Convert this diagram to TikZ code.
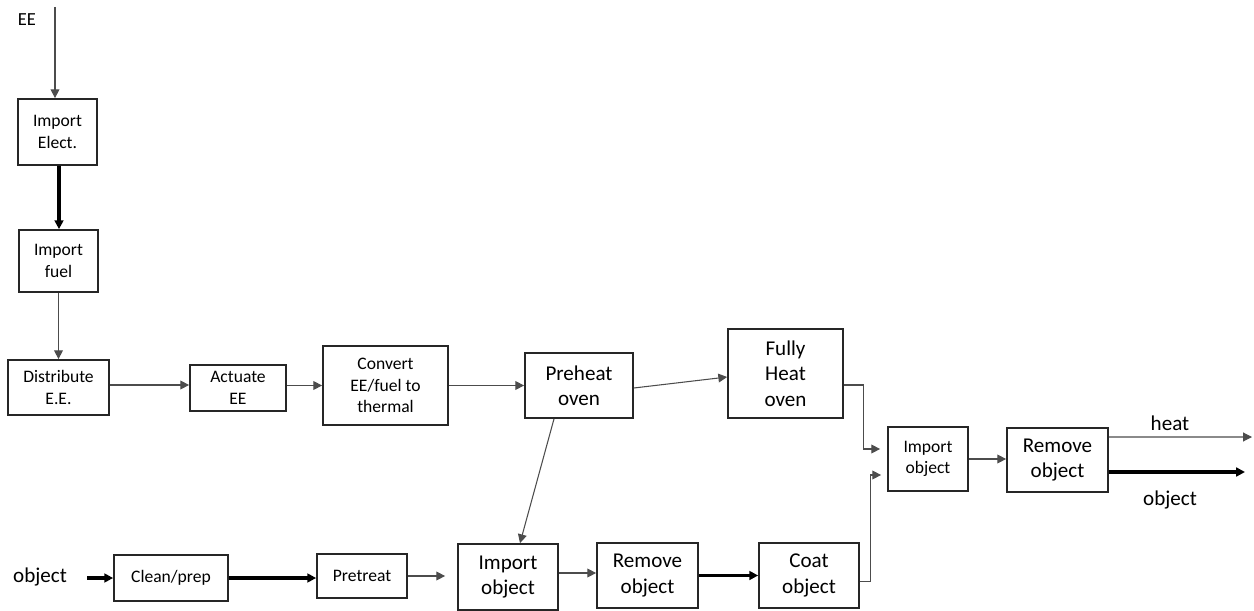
\documentclass[tikz,border=0pt]{standalone}
\usepackage{fontspec}
\setmainfont{Carlito}
\usetikzlibrary{arrows.meta}

\begin{document}
\begin{tikzpicture}[x=0.02cm,y=-0.02cm]
      \tikzstyle{every node}+=[inner sep=0pt]
      \tikzstyle{blk}=[draw=black!85,line width=1pt,align=center,text=black]
      \tikzstyle{txs}=[font=\fontsize{10}{12.3}\selectfont]
      \tikzstyle{txl}=[font=\fontsize{12}{14.5}\selectfont]
      \tikzstyle{lbl}=[text=black]
      \tikzstyle{arr}=[draw=black!70,line width=0.6pt,-{Triangle[length=5pt,width=5pt]}]
      \tikzstyle{fatarr}=[draw=black,line width=2.2pt,-{Triangle[length=5pt,width=5pt]}]
      \useasboundingbox (0,0) rectangle (1254,611);
      % energy column
      \node[lbl,font=\fontsize{10.5}{12}\selectfont] (ee) at (27,20) {EE};
      \coordinate (eetop) at (55,7);
      \node[blk,txs,minimum width=1.58cm,minimum height=1.32cm] (impelec) at (57.5,132) {Import\\Elect.};
      \node[blk,txs,minimum width=1.58cm,minimum height=1.24cm] (impfuel) at (58.5,261) {Import\\fuel};
      \node[blk,txs,minimum width=2.02cm,minimum height=1.10cm] (distrib) at (58.5,387.5) {Distribute\\E.E.};
      % top row
      \node[blk,txs,minimum width=1.92cm,minimum height=0.92cm] (actuate) at (238,388) {Actuate\\EE};
      \node[blk,txs,minimum width=2.50cm,minimum height=1.58cm] (convert) at (385.5,385.5) {Convert\\EE/fuel to\\thermal};
      \node[blk,txl,minimum width=2.16cm,minimum height=1.30cm] (preheat) at (579,385.5) {Preheat\\oven};
      \node[blk,txl,minimum width=2.30cm,minimum height=1.78cm] (fullheat) at (785.5,373.5) {Fully\\Heat\\oven};
      \node[blk,txs,minimum width=1.60cm,minimum height=1.28cm] (impobjR) at (928,459) {Import\\object};
      \node[blk,txl,minimum width=2.02cm,minimum height=1.28cm] (remobjR) at (1057.5,460) {Remove\\object};
      \node[lbl,txl] (heat) at (1170,423) {heat};
      \node[lbl,txl] (objout) at (1170,500) {object};
      \coordinate (heatend) at (1252,437);
      \coordinate (objend) at (1245,472);
      % bottom row
      \node[lbl,txl] (objin) at (40,577) {object};
      \coordinate (objstart) at (87,578);
      \node[blk,txs,minimum width=2.28cm,minimum height=0.92cm] (cleanprep) at (171,578) {Clean/prep};
      \node[blk,txs,minimum width=1.80cm,minimum height=0.88cm] (pretreat) at (362,576) {Pretreat};
      \node[blk,txl,minimum width=2.00cm,minimum height=1.32cm] (impobjB) at (508,577) {Import\\object};
      \node[blk,txl,minimum width=2.02cm,minimum height=1.30cm] (remobjB) at (647.5,575.5) {Remove\\object};
      \node[blk,txl,minimum width=2.00cm,minimum height=1.30cm] (coat) at (809,575.5) {Coat\\object};
      % connectors
      \draw[arr] (eetop) -- (eetop |- impelec.north);
      \draw[fatarr] ([xshift=0.03cm]impelec.south) -- ([xshift=0.01cm]impfuel.north);
      \draw[arr] (impfuel.south) -- (distrib.north);
      \draw[arr] ([yshift=0.05cm]distrib.east) -- ([yshift=0.05cm]distrib.east -| actuate.west);
      \draw[arr] ([yshift=0.05cm]actuate.east) -- ([yshift=0.05cm]actuate.east -| convert.west);
      \draw[arr] (convert.east) -- (preheat.west);
      \draw[arr] ([yshift=-0.05cm]preheat.east) -- ([yshift=-0.07cm]fullheat.west);
      \draw[arr] ([xshift=-0.5cm]preheat.south) -- ([xshift=0.24cm]impobjB.north);
      \draw[arr] ([yshift=-0.23cm]fullheat.east) -- ++(20,0) |- ([xshift=-0.14cm,yshift=0.2cm]impobjR.west);
      \draw[arr] ([yshift=-0.12cm]coat.east) -- ++(11,0) |- ([xshift=-0.12cm,yshift=-0.32cm]impobjR.west);
      \draw[arr] (impobjR.east) -- (impobjR.east -| remobjR.west);
      \draw[arr] ([yshift=0.46cm]remobjR.east) -- (heatend);
      \draw[fatarr] ([yshift=-0.24cm]remobjR.east) -- (objend);
      \draw[fatarr] (objstart) -- (objstart -| cleanprep.west);
      \draw[fatarr] (cleanprep.east) -- (cleanprep.east -| pretreat.west);
      \draw[arr] (pretreat.east) -- ([xshift=-0.24cm]pretreat.east -| impobjB.west);
      \draw[arr] ([yshift=0.08cm]impobjB.east) -- ([yshift=0.08cm]impobjB.east -| remobjB.west);
      \draw[fatarr] (remobjB.east) -- (coat.west);
\end{tikzpicture}
\end{document}
